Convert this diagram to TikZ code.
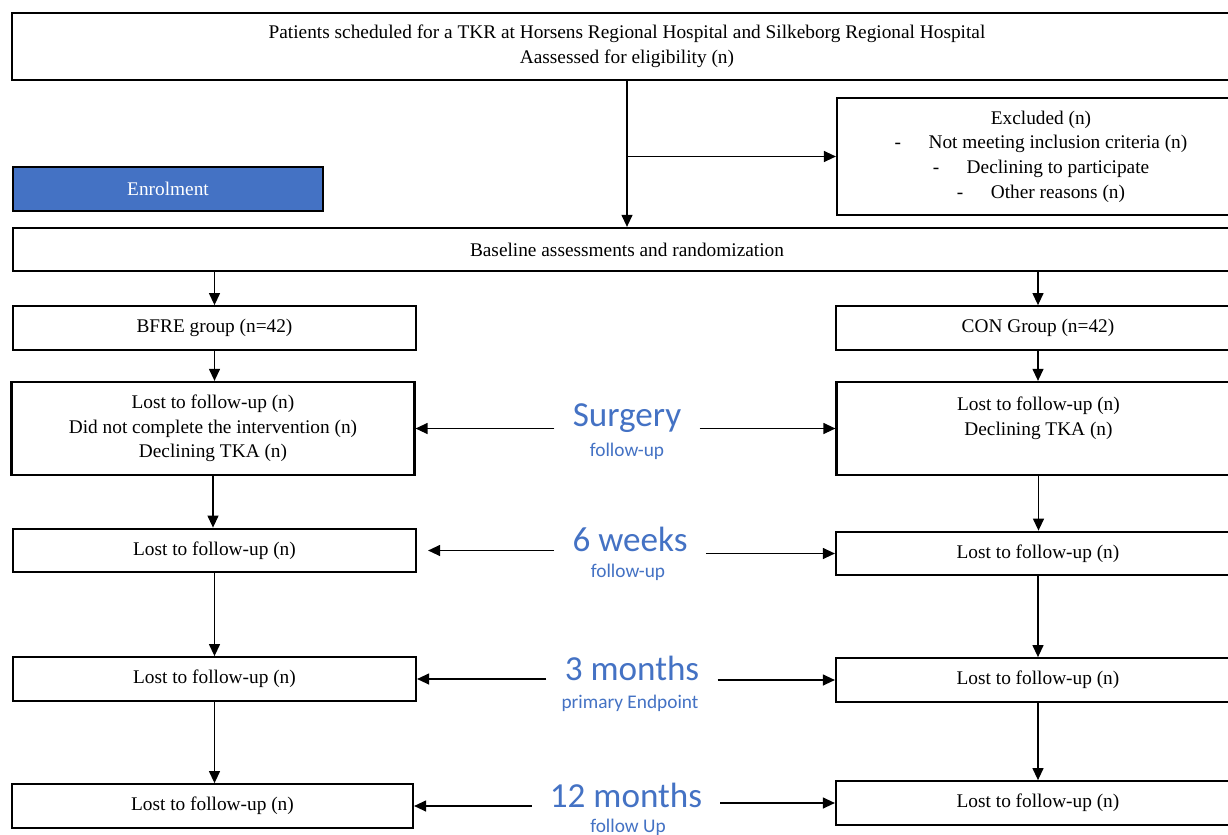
\documentclass[tikz,border=0pt]{standalone}
\usepackage{fontspec}
\setmainfont{Liberation Serif}
\newfontfamily\calfont{Carlito}
\usetikzlibrary{positioning,calc}
\usetikzlibrary{arrows.meta}
\definecolor{PhaseBlue}{RGB}{68,114,196}
\tikzset{
  box/.style={draw=black,line width=1.3pt,fill=white,align=center,inner sep=2pt,
    minimum height=0.87cm,font=\fontsize{11}{14}\selectfont},
  lbox/.style={box,minimum width=8.06cm},
  rbox/.style={box,minimum width=8.08cm},
  arr/.style={draw=black,line width=0.7pt,-{Triangle[length=0.24cm,width=0.22cm]}},
  phase/.style={text=PhaseBlue,font=\calfont\fontsize{20}{22}\selectfont,
    inner xsep=0.36cm,inner ysep=0pt},
  phasesub/.style={text=PhaseBlue,font=\calfont\fontsize{11}{13}\selectfont,inner sep=0pt},
}
\begin{document}
\begin{tikzpicture}[x=0.02cm,y=-0.02cm]
\useasboundingbox (0,0) rectangle (1228,835);
\clip (0,0) rectangle (1228,835);
\fill[white] (0,0) rectangle (1228,835);

\node[box,minimum width=24.6cm,minimum height=1.34cm] (top) at (627,46.5)
  {Patients scheduled for a TKR at Horsens Regional Hospital and Silkeborg Regional Hospital\\
   Aassessed for eligibility (n)};
\node[box,minimum width=8.16cm,minimum height=2.34cm] (excl) at (1041,156.5)
  {Excluded (n)\\
   -\hspace{0.55cm}Not meeting inclusion criteria (n)\\
   -\hspace{0.55cm}Declining to participate\\
   -\hspace{0.55cm}Other reasons (n)};
\node[box,minimum width=6.2cm,minimum height=0.88cm,fill=PhaseBlue,text=white] (enrol) at (168,189) {Enrolment};
\node[box,minimum width=24.56cm,minimum height=0.86cm] (base) at (627,249.5)
  {Baseline assessments and randomization};

\node[lbox] (bfre) at (214.5,328) {BFRE group (n=42)};
\node[rbox] (con) at (1038,328) {CON Group (n=42)};

\node[lbox,minimum height=1.86cm] (lsurg) at (213,428.5)
  {Lost to follow-up (n)\\Did not complete the intervention (n)\\Declining TKA (n)};
\node[rbox,minimum height=1.86cm] (rsurg) at (1038.5,428.5)
  {Lost to follow-up (n)\\Declining TKA (n)\\~};
\node[lbox] (lwk6) at (214.5,550.5) {Lost to follow-up (n)};
\node[rbox] (rwk6) at (1038,553.5) {Lost to follow-up (n)};
\node[lbox] (lmo3) at (214.5,679) {Lost to follow-up (n)};
\node[rbox] (rmo3) at (1038,680) {Lost to follow-up (n)};
\node[lbox,minimum width=8.02cm] (lmo12) at (212.5,806) {Lost to follow-up (n)};
\node[rbox] (rmo12) at (1038,803) {Lost to follow-up (n)};

\node[phase] (surg) at (627,418) {Surgery};
\node[phasesub] (surgsub) at (627,451) {follow-up};
\node[phase] (wk6) at (630,539) {6 weeks};
\node[phasesub] (wk6sub) at (628,572) {follow-up};
\node[phase] (mo3) at (632,668) {3 months};
\node[phasesub] (mo3sub) at (630,703) {primary Endpoint};
\node[phase] (mo12) at (626,795) {12 months};
\node[phasesub] (mo12sub) at (628,827) {follow Up};

\draw[arr] (top.south) -- (base.north);
\draw[arr] (top.south |- excl.west) -- (excl.west);
\draw[arr] (base.south -| bfre) -- (bfre.north);
\draw[arr] (base.south -| con) -- (con.north);

\draw[arr] (bfre.south) -- (bfre.south |- lsurg.north);
\draw[arr] (lsurg.south) -- (lsurg.south |- lwk6.north);
\draw[arr] (lwk6.south) -- (lwk6.south |- lmo3.north);
\draw[arr] (lmo3.south) -- (lmo3.south |- lmo12.north);
\draw[arr] (con.south) -- (con.south |- rsurg.north);
\draw[arr] (rsurg.south) -- (rsurg.south |- rwk6.north);
\draw[arr] (rwk6.south) -- (rwk6.south |- rmo3.north);
\draw[arr] (rmo3.south) -- (rmo3.south |- rmo12.north);

\draw[arr] (surg.west |- lsurg.east) -- (lsurg.east);
\draw[arr] (surg.east |- rsurg.west) -- (rsurg.west);
\draw[arr,shorten >=0.22cm] (wk6.west |- lwk6.east) -- (lwk6.east);
\draw[arr] (wk6.east |- rwk6.west) -- (rwk6.west);
\draw[arr] (mo3.west |- lmo3.east) -- (lmo3.east);
\draw[arr] (mo3.east |- rmo3.west) -- (rmo3.west);
\draw[arr] (mo12.west |- lmo12.east) -- (lmo12.east);
\draw[arr] (mo12.east |- rmo12.west) -- (rmo12.west);
\end{tikzpicture}
\end{document}
